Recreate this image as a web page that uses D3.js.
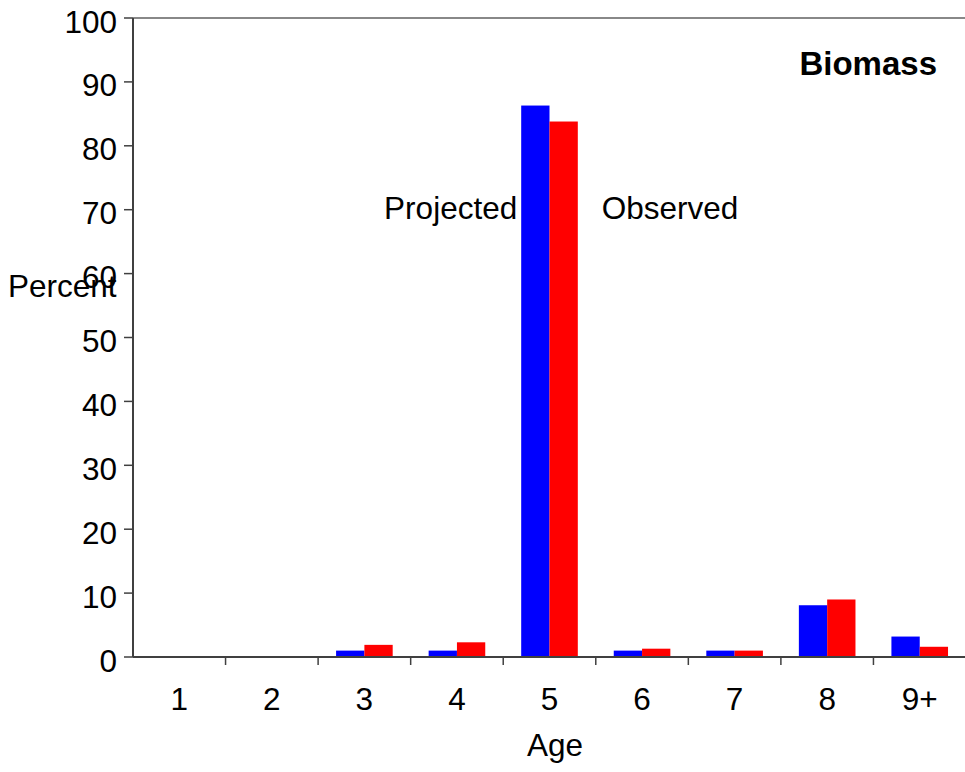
<!DOCTYPE html>
<html>
<head>
<meta charset="utf-8">
<script src="https://cdn.jsdelivr.net/npm/d3@7"></script>
<style>
  html, body { margin: 0; padding: 0; background: #fff; }
  svg { display: block; font-family: "Liberation Sans", Arial, sans-serif; }
</style>
</head>
<body>
<svg id="chart" width="965" height="772"></svg>
<script>
// Age classes and percentage of biomass per class
const ages = ["1", "2", "3", "4", "5", "6", "7", "8", "9+"];
const projected = [0, 0, 1.0, 1.0, 86.3, 1.0, 1.0, 8.1, 3.2];
const observed  = [0, 0, 1.9, 2.3, 83.8, 1.3, 1.0, 9.0, 1.6];
const seriesNames = ["Projected", "Observed"];
const seriesColors = ["#0000ff", "#ff0000"];
const yTicks = [0, 10, 20, 30, 40, 50, 60, 70, 80, 90, 100];

const rows = ages.map((a, i) => ({ age: a, values: [projected[i], observed[i]] }));

const svg = d3.select("#chart");
const plotLeft = 133, plotRight = 966, plotTop = 18, plotBottom = 657;
const fontSize = 31.5;

const x = d3.scaleBand().domain(ages).range([plotLeft, plotRight]).paddingInner(0).paddingOuter(0);
const xSub = d3.scaleBand().domain(seriesNames).range([0, x.bandwidth()]).paddingInner(0).paddingOuter(0.635);
const y = d3.scaleLinear().domain([0, 100]).range([plotBottom, plotTop]);

// top frame line
svg.append("line")
  .attr("x1", plotLeft).attr("x2", 965).attr("y1", plotTop).attr("y2", plotTop)
  .attr("stroke", "#888").attr("stroke-width", 2);

// bars
const groups = svg.append("g").selectAll("g").data(rows).join("g")
  .attr("transform", d => `translate(${x(d.age)},0)`);
groups.selectAll("rect")
  .data(d => d.values.map((v, k) => ({ name: seriesNames[k], v, k })))
  .join("rect")
  .attr("x", d => xSub(d.name))
  .attr("width", xSub.bandwidth())
  .attr("y", d => y(d.v))
  .attr("height", d => y(0) - y(d.v))
  .attr("fill", d => seriesColors[d.k]);

// y axis
const yAxis = svg.append("g");
yAxis.append("line")
  .attr("x1", plotLeft).attr("x2", plotLeft).attr("y1", plotTop).attr("y2", plotBottom)
  .attr("stroke", "#404040").attr("stroke-width", 2);
yAxis.selectAll("line.tick").data(yTicks).join("line")
  .attr("class", "tick")
  .attr("x1", plotLeft - 9).attr("x2", plotLeft)
  .attr("y1", d => y(d)).attr("y2", d => y(d))
  .attr("stroke", "#404040").attr("stroke-width", 1.5);
yAxis.selectAll("text").data(yTicks).join("text")
  .attr("x", 117).attr("y", d => y(d) + 14.5)
  .attr("text-anchor", "end")
  .attr("font-size", fontSize)
  .attr("fill", "#000")
  .text(d => d);

// x axis
const xAxis = svg.append("g");
xAxis.append("line")
  .attr("x1", plotLeft).attr("x2", 965).attr("y1", plotBottom).attr("y2", plotBottom)
  .attr("stroke", "#404040").attr("stroke-width", 2);
xAxis.selectAll("line.tick").data(ages.slice(1)).join("line")
  .attr("class", "tick")
  .attr("x1", d => x(d)).attr("x2", d => x(d))
  .attr("y1", plotBottom).attr("y2", plotBottom + 8)
  .attr("stroke", "#404040").attr("stroke-width", 1.5);
xAxis.selectAll("text").data(ages).join("text")
  .attr("x", d => x(d) + x.bandwidth() / 2)
  .attr("y", 710)
  .attr("text-anchor", "middle")
  .attr("font-size", fontSize)
  .attr("fill", "#000")
  .text(d => d);

// axis titles
svg.append("text")
  .attr("x", 555).attr("y", 756)
  .attr("text-anchor", "middle").attr("font-size", fontSize)
  .text("Age");
svg.append("text")
  .attr("x", 8).attr("y", 297)
  .attr("font-size", fontSize)
  .text("Percent");

// series labels beside the tallest pair
const peak = rows[4];
svg.append("text")
  .attr("x", x(peak.age) + xSub("Projected") - 4).attr("y", 219)
  .attr("text-anchor", "end").attr("font-size", fontSize)
  .text("Projected");
svg.append("text")
  .attr("x", x(peak.age) + xSub("Observed") + xSub.bandwidth() + 24).attr("y", 219)
  .attr("text-anchor", "start").attr("font-size", fontSize)
  .text("Observed");

// panel title
svg.append("text")
  .attr("x", 937).attr("y", 75)
  .attr("text-anchor", "end").attr("font-size", 33).attr("font-weight", "bold")
  .text("Biomass");
</script>
</body>
</html>
